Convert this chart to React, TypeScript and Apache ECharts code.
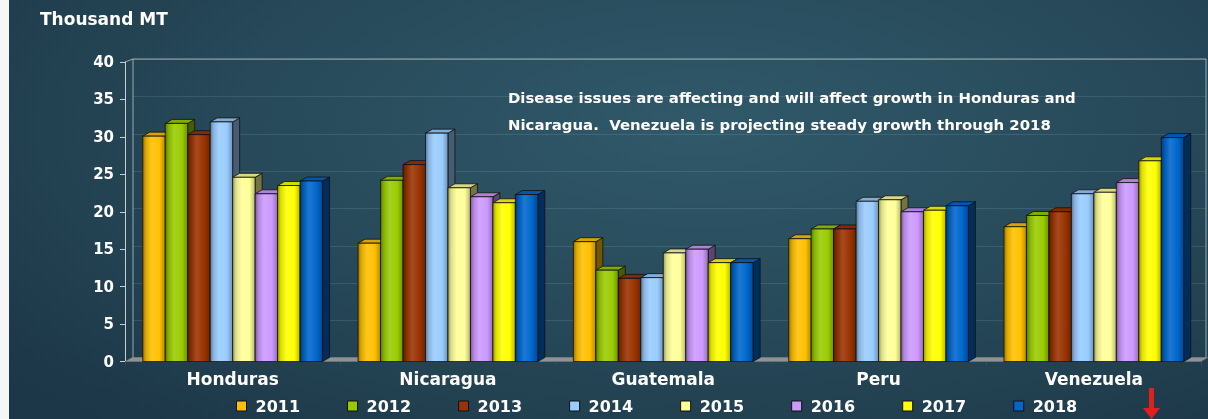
import React, { useEffect, useRef } from "react";
import * as echarts from "echarts";

const categories = ["Honduras", "Nicaragua", "Guatemala", "Peru", "Venezuela"];
const years = ["2011", "2012", "2013", "2014", "2015", "2016", "2017", "2018"];
const v2011 = [30.1, 15.8, 16.0, 16.4, 18.0];
const v2012 = [31.8, 24.2, 12.2, 17.7, 19.5];
const v2013 = [30.3, 26.3, 11.1, 17.7, 20.0];
const v2014 = [32.0, 30.5, 11.2, 21.4, 22.4];
const v2015 = [24.6, 23.2, 14.5, 21.6, 22.6];
const v2016 = [22.4, 22.0, 15.0, 20.0, 23.9];
const v2017 = [23.5, 21.2, 13.2, 20.2, 26.8];
const v2018 = [24.1, 22.3, 13.2, 20.8, 29.9];
const seriesValues = [v2011, v2012, v2013, v2014, v2015, v2016, v2017, v2018];
const yearColors = ["#FFC000", "#99CC00", "#993300", "#99CCFF", "#FFFF99", "#CC99FF", "#FFFF00", "#0066CC"];
const yTicks = { min: 0, max: 40, interval: 5 };
const titleText = "Thousand MT";
const noteLines = [
  "Disease issues are affecting and will affect growth in Honduras and",
  "Nicaragua.  Venezuela is projecting steady growth through 2018",
];

const FONT = "'DejaVu Sans', 'Liberation Sans', Arial, sans-serif";

function shade(hex: string, f: number): string {
  const n = parseInt(hex.slice(1), 16);
  let r = (n >> 16) & 255, g = (n >> 8) & 255, b = n & 255;
  const adj = (c: number) => {
    if (f <= 1) return Math.round(c * f);
    return Math.round(c + (255 - c) * (f - 1));
  };
  r = Math.min(255, adj(r)); g = Math.min(255, adj(g)); b = Math.min(255, adj(b));
  return `rgb(${r},${g},${b})`;
}

const GROUP = 0.835;
const DX = 7;
const DY = -4;

function makeRender(s: number, color: string) {
  return (params: any, api: any) => {
    const ci = api.value(0);
    const v = api.value(1);
    const band = api.size([1, 0])[0];
    const gw = band * GROUP;
    const bw = gw / years.length;
    const p0 = api.coord([ci, 0]);
    const p1 = api.coord([ci, v]);
    const x = p0[0] - gw / 2 + s * bw;
    const y = p1[1];
    const yb = p0[1];
    const stroke = { stroke: "#111", lineWidth: 0.8 };
    return {
      type: "group",
      children: [
        {
          type: "polygon",
          shape: { points: [[x + bw, y], [x + bw + DX, y + DY], [x + bw + DX, yb + DY], [x + bw, yb]] },
          style: { fill: shade(color, 0.45), ...stroke },
        },
        {
          type: "polygon",
          shape: { points: [[x, y], [x + DX, y + DY], [x + bw + DX, y + DY], [x + bw, y]] },
          style: { fill: shade(color, 0.85), ...stroke },
        },
        {
          type: "rect",
          shape: { x, y, width: bw, height: yb - y },
          style: {
            fill: new echarts.graphic.LinearGradient(0, 0, 1, 0, [
              { offset: 0, color: shade(color, 0.6) },
              { offset: 0.15, color: shade(color, 0.88) },
              { offset: 0.4, color: shade(color, 1.12) },
              { offset: 0.75, color: shade(color, 1.0) },
              { offset: 1, color: shade(color, 0.72) },
            ]),
            ...stroke,
          },
        },
      ],
    };
  };
}

export default function App() {
  const ref = useRef<HTMLDivElement>(null);
  useEffect(() => {
    document.body.style.margin = "0";
    const chart = echarts.init(ref.current!, undefined, { renderer: "svg" });
    const series: any[] = years.map((yr, s) => ({
      name: yr,
      type: "custom",
      xAxisIndex: 0,
      yAxisIndex: 0,
      clip: false,
      renderItem: makeRender(s, yearColors[s]),
      itemStyle: { color: yearColors[s], borderColor: "#111", borderWidth: 1 },
      encode: { x: 0, y: 1 },
      data: categories.map((c, i) => [i, seriesValues[s][i]]),
      z: 5,
    }));
    chart.setOption({
      animation: false,
      backgroundColor: "transparent",
      grid: [
        { left: 125, top: 62, right: 6.5, bottom: 57.5 },
        {
          left: 133, top: 59, right: 2, bottom: 61, show: true,
          borderColor: "rgba(190,205,210,0.75)", borderWidth: 1, backgroundColor: "transparent",
        },
      ],
      xAxis: [
        {
          type: "category",
          gridIndex: 0,
          data: categories,
          axisLine: { show: true, lineStyle: { color: "#4a5e66", width: 1 } },
          axisTick: { show: true, length: 4, lineStyle: { color: "#3a4a50" } },
          axisLabel: { color: "#ffffff", fontFamily: FONT, fontWeight: "bold", fontSize: 17, margin: 9 },
          splitLine: { show: false },
        },
        { type: "category", gridIndex: 1, data: categories, show: false },
      ],
      yAxis: [
        {
          type: "value",
          gridIndex: 0,
          min: yTicks.min,
          max: yTicks.max,
          interval: yTicks.interval,
          axisLine: { show: true, lineStyle: { color: "#c5d0d4", width: 1 } },
          axisTick: { show: true, length: 5, lineStyle: { color: "#c5d0d4" } },
          axisLabel: { color: "#ffffff", fontFamily: FONT, fontWeight: "bold", fontSize: 15, margin: 11 },
          splitLine: { show: false },
        },
        {
          type: "value",
          gridIndex: 1,
          min: yTicks.min,
          max: yTicks.max,
          interval: yTicks.interval,
          axisLine: { show: false },
          axisTick: { show: false },
          axisLabel: { show: false },
          splitLine: { show: true, lineStyle: { color: "rgba(255,255,255,0.10)", width: 1 } },
        },
      ],
      legend: {
        data: years,
        left: 236,
        top: 398,
        padding: 0,
        icon: "rect",
        itemWidth: 10,
        itemHeight: 10,
        itemGap: 47,
        itemStyle: { borderColor: "#111", borderWidth: 1 },
        textStyle: {
          color: "#ffffff", fontFamily: FONT, fontWeight: "bold", fontSize: 16,
          padding: [0, 0, 0, 4],
        },
      },
      graphic: [
        {
          type: "polygon",
          z: 1,
          shape: { points: [[125, 361.5], [132, 357.5], [1208, 357.5], [1201, 361.5]] },
          style: { fill: "#8e9396", stroke: "#6a7075", lineWidth: 0.5 },
        },
        {
          type: "line",
          shape: { x1: 125, y1: 62, x2: 133, y2: 59 },
          style: { stroke: "rgba(190,205,210,0.75)", lineWidth: 1 },
        },
        {
          type: "text",
          left: 40,
          top: 10,
          style: { text: titleText, fill: "#ffffff", font: `bold 17px ${FONT}` },
        },
        {
          type: "text",
          left: 508,
          top: 90,
          style: { text: noteLines[0], fill: "#ffffff", font: `bold 14.9px ${FONT}` },
        },
        {
          type: "text",
          left: 508,
          top: 117,
          style: { text: noteLines[1], fill: "#ffffff", font: `bold 14.9px ${FONT}` },
        },
        {
          type: "polygon",
          shape: { points: [[1149, 388], [1154, 388], [1154, 408], [1160, 408], [1151.5, 419], [1143, 408], [1149, 408]] },
          style: { fill: "#e0201c" },
        },
      ],
      series,
    });
    return () => chart.dispose();
  }, []);
  return (
    <div
      ref={ref}
      style={{
        position: "fixed",
        left: 0,
        top: 0,
        width: 1208,
        height: 419,
        background:
          "linear-gradient(90deg, #f4f6f7 0px, #f4f6f7 9px, transparent 9px), radial-gradient(ellipse 75% 95% at 58% 30%, #30596a 0%, #284b5b 45%, #1c3747 100%)",
      }}
    />
  );
}
